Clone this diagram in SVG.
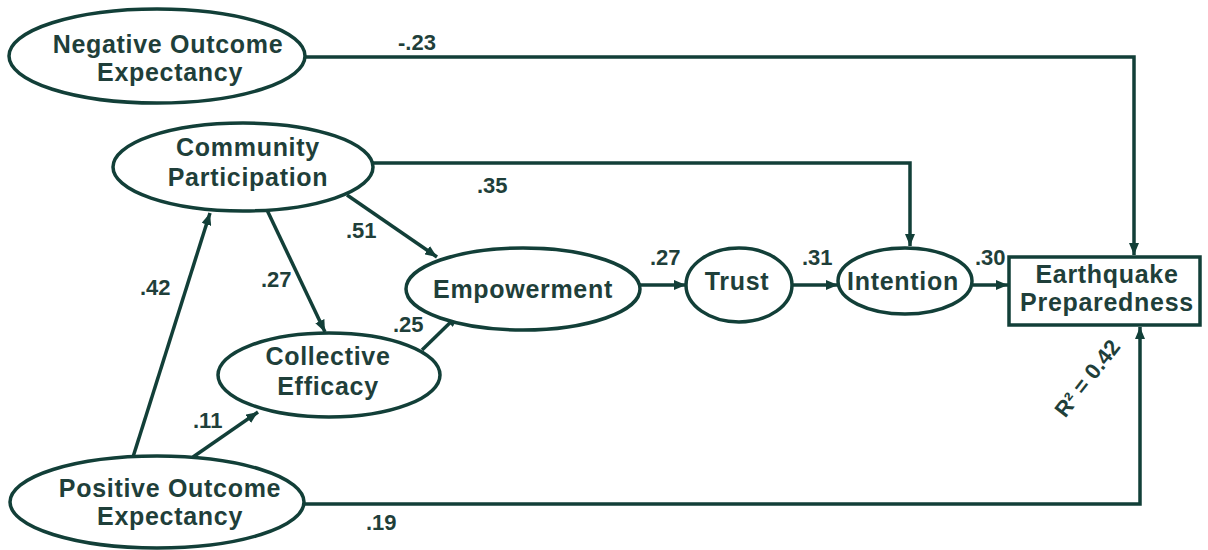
<svg xmlns="http://www.w3.org/2000/svg" width="1208" height="550" viewBox="0 0 1208 550">
  <style>
    .node { fill: #ffffff; stroke: #123f38; stroke-width: 3.5; }
    .lbl { font-family: "Liberation Sans", Arial, sans-serif; font-weight: bold; font-size: 25px; letter-spacing: 0.7px; fill: #1f3f3a; text-anchor: middle; }
    .coef { font-family: "Liberation Sans", Arial, sans-serif; font-weight: bold; font-size: 22px; fill: #1f3f3a; }
    .edge { fill: none; stroke: #123f38; stroke-width: 3.5; stroke-linejoin: miter; }
  </style>
  <defs>
    <marker id="arrow" viewBox="0 0 12 10" refX="12" refY="5" markerWidth="12" markerHeight="10" markerUnits="userSpaceOnUse" orient="auto">
      <path d="M0,0 L12,5 L0,10 Z" fill="#123f38"/>
    </marker>
  </defs>
  <rect width="1208" height="550" fill="#ffffff"/>

  <!-- connectors -->
  <g id="connectors">
    <polyline class="edge" points="305,57 1134,57 1134,255" marker-end="url(#arrow)"/>
    <polyline class="edge" points="373,163 910,163 910,246" marker-end="url(#arrow)"/>
    <line class="edge" x1="347" y1="195" x2="437" y2="257" marker-end="url(#arrow)"/>
    <line class="edge" x1="267" y1="210" x2="325" y2="332" marker-end="url(#arrow)"/>
    <line class="edge" x1="133" y1="457" x2="210" y2="213" marker-end="url(#arrow)"/>
    <line class="edge" x1="193" y1="457" x2="258" y2="412" marker-end="url(#arrow)"/>
    <line class="edge" x1="422" y1="350" x2="458" y2="315" marker-end="url(#arrow)"/>
    <line class="edge" x1="640" y1="285" x2="686" y2="285" marker-end="url(#arrow)"/>
    <line class="edge" x1="793" y1="285" x2="838" y2="285" marker-end="url(#arrow)"/>
    <line class="edge" x1="973" y1="285" x2="1008" y2="285" marker-end="url(#arrow)"/>
    <polyline class="edge" points="304,504 1140,504 1140,327" marker-end="url(#arrow)"/>
  </g>

  <!-- path coefficients -->
  <g id="coefficients">
    <text class="coef" x="398" y="50">-.23</text>
    <text class="coef" x="477" y="193">.35</text>
    <text class="coef" x="346" y="238">.51</text>
    <text class="coef" x="140" y="295">.42</text>
    <text class="coef" x="261" y="287">.27</text>
    <text class="coef" x="393" y="332">.25</text>
    <text class="coef" x="193" y="428">.11</text>
    <text class="coef" x="366" y="530">.19</text>
    <text class="coef" x="650" y="265">.27</text>
    <text class="coef" x="802" y="265">.31</text>
    <text class="coef" x="975" y="265">.30</text>
    <text class="coef" transform="translate(1087,378) rotate(-52)" text-anchor="middle" y="8" font-size="23">R² = 0.42</text>
  </g>

  <g id="negative-outcome">
    <ellipse class="node" cx="157" cy="56" rx="148" ry="47"/>
    <text class="lbl" x="168" y="53">Negative Outcome</text>
    <text class="lbl" x="170" y="81">Expectancy</text>
  </g>

  <g id="community-participation">
    <ellipse class="node" cx="243" cy="167" rx="130" ry="44"/>
    <text class="lbl" x="248" y="156">Community</text>
    <text class="lbl" x="248" y="186">Participation</text>
  </g>

  <g id="empowerment">
    <ellipse class="node" cx="523" cy="289" rx="117" ry="41"/>
    <text class="lbl" x="523" y="298">Empowerment</text>
  </g>

  <g id="trust">
    <ellipse class="node" cx="739" cy="285" rx="53" ry="37"/>
    <text class="lbl" x="737" y="290">Trust</text>
  </g>

  <g id="intention">
    <ellipse class="node" cx="905" cy="281" rx="67" ry="33"/>
    <text class="lbl" x="903" y="290">Intention</text>
  </g>

  <g id="collective-efficacy">
    <ellipse class="node" cx="329" cy="375" rx="111" ry="42"/>
    <text class="lbl" x="328" y="365">Collective</text>
    <text class="lbl" x="328" y="395">Efficacy</text>
  </g>

  <g id="positive-outcome">
    <ellipse class="node" cx="157" cy="502" rx="147" ry="46"/>
    <text class="lbl" x="170" y="497">Positive Outcome</text>
    <text class="lbl" x="170" y="525">Expectancy</text>
  </g>

  <g id="earthquake-preparedness">
    <rect class="node" x="1009" y="257" width="191" height="68"/>
    <text class="lbl" x="1107" y="283">Earthquake</text>
    <text class="lbl" x="1107" y="311">Preparedness</text>
  </g>
</svg>
